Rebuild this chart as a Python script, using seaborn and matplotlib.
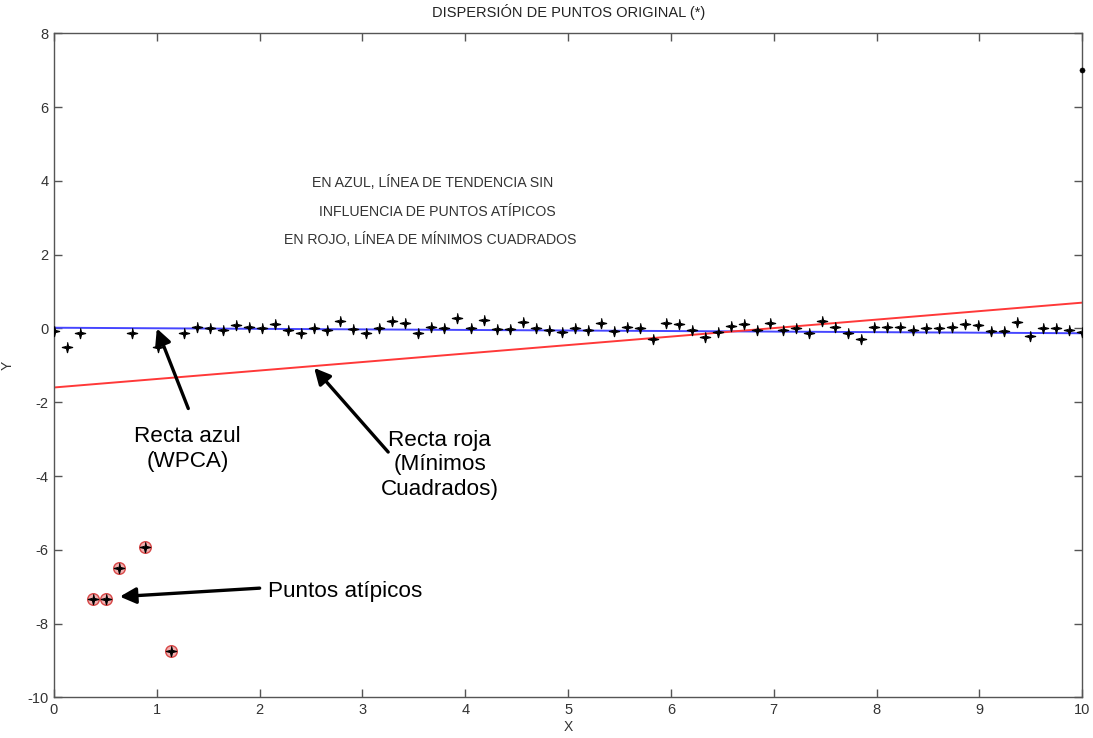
import numpy as np
import seaborn as sns
import matplotlib.pyplot as plt

# puntos originales (80 puntos, x entre 0 y 10)
x = [0.0, 0.127, 0.253, 0.380, 0.506, 0.633, 0.759, 0.886, 1.013, 1.139,
     1.266, 1.392, 1.519, 1.646, 1.772, 1.899, 2.025, 2.152, 2.278, 2.405,
     2.532, 2.658, 2.785, 2.911, 3.038, 3.165, 3.291, 3.418, 3.544, 3.671,
     3.797, 3.924, 4.051, 4.177, 4.304, 4.430, 4.557, 4.684, 4.810, 4.937,
     5.063, 5.190, 5.316, 5.443, 5.570, 5.696, 5.823, 5.949, 6.076, 6.203,
     6.329, 6.456, 6.582, 6.709, 6.835, 6.962, 7.089, 7.215, 7.342, 7.468,
     7.595, 7.722, 7.848, 7.975, 8.101, 8.228, 8.354, 8.481, 8.608, 8.734,
     8.861, 8.987, 9.114, 9.241, 9.367, 9.494, 9.620, 9.747, 9.873, 10.0]
y = [-0.06, -0.50, -0.11, -7.33, -7.33, -6.50, -0.13, -5.93, -0.50, -8.74,
     -0.12, 0.05, 0.00, -0.03, 0.09, 0.05, 0.00, 0.11, -0.04, -0.11,
     0.00, -0.04, 0.20, -0.02, -0.12, 0.00, 0.20, 0.16, -0.11, 0.05,
     0.02, 0.27, 0.02, 0.23, -0.02, -0.02, 0.18, 0.00, -0.04, -0.09,
     0.00, -0.04, 0.16, -0.07, 0.05, 0.00, -0.29, 0.14, 0.11, -0.03,
     -0.24, -0.09, 0.07, 0.11, -0.03, 0.14, -0.03, 0.00, -0.11, 0.21,
     0.05, -0.13, -0.29, 0.03, 0.03, 0.03, -0.03, 0.02, 0.00, 0.03,
     0.12, 0.09, -0.06, -0.06, 0.18, -0.20, 0.02, 0.02, -0.03, -0.09]
outlier_idx = [3, 4, 5, 7, 9]

# punto aislado arriba a la derecha
extra_x = [10.0]
extra_y = [7.0]

# rectas
line_x = [0, 10]
blue_y = [0.02, -0.13]   # WPCA
red_y = [-1.60, 0.70]    # minimos cuadrados

xticks = list(range(0, 11))
yticks = list(range(-10, 9, 2))

sns.set_style('white')
plt.rcParams['font.family'] = ['Liberation Sans', 'DejaVu Sans']
plt.rcParams['axes.unicode_minus'] = False

# estrella de 4 puntas fina, como el '*' de matlab
star = [(0, 1), (0.2, 0.2), (1, 0), (0.2, -0.2), (0, -1),
        (-0.2, -0.2), (-1, 0), (-0.2, 0.2)]

fig = plt.figure(figsize=(10.93, 7.38), dpi=100)
ax = fig.add_axes([0.0494, 0.0551, 0.9408, 0.8997])

sns.lineplot(x=line_x, y=blue_y, color='#4646ff', linewidth=1.4, ax=ax)
sns.lineplot(x=line_x, y=red_y, color='#ff3838', linewidth=1.4, ax=ax)

ox = [x[i] for i in outlier_idx]
oy = [y[i] for i in outlier_idx]
sns.scatterplot(x=ox, y=oy, s=70, color='#f2b0b0', edgecolor='#d84848',
                linewidth=1.0, ax=ax, zorder=3)
sns.scatterplot(x=x, y=y, marker=star, s=55, color='black',
                edgecolor='black', linewidth=0.9, ax=ax, zorder=4)
sns.scatterplot(x=extra_x, y=extra_y, s=14, color='black', edgecolor='black',
                ax=ax, zorder=4, clip_on=False)

ax.set_xlim(0, 10)
ax.set_ylim(-10, 8)
ax.set_xticks(xticks)
ax.set_yticks(yticks)
ax.tick_params(direction='in', length=6, width=1, colors='#555555',
               labelcolor='#333333', labelsize=10.5, top=True, right=True,
               bottom=True, left=True, pad=4)
for sp in ax.spines.values():
    sp.set_color('#555555')
    sp.set_linewidth(1.0)

ax.set_xlabel('X', fontsize=10, color='#333333', labelpad=2)
ax.set_ylabel('Y', fontsize=10, color='#333333', labelpad=9)
ax.set_title('DISPERSIÓN DE PUNTOS ORIGINAL (*)', fontsize=10.5,
             color='#222222', pad=12)

txt_kw = dict(fontsize=10.2, color='#333333', ha='center', va='center')
ax.text(3.68, 3.97, 'EN AZUL, LÍNEA DE TENDENCIA SIN', **txt_kw)
ax.text(3.73, 3.17, 'INFLUENCIA DE PUNTOS ATÍPICOS', **txt_kw)
ax.text(3.66, 2.40, 'EN ROJO, LÍNEA DE MÍNIMOS CUADRADOS', **txt_kw)

arrow = dict(arrowstyle='-|>', color='black', lw=2.4, mutation_scale=24,
             shrinkA=0, shrinkB=0)
ax.annotate('', xy=(1.0, 0.0), xytext=(1.306, -2.17), arrowprops=arrow)
ax.annotate('', xy=(2.53, -1.07), xytext=(3.25, -3.35), arrowprops=arrow)
ax.annotate('', xy=(0.64, -7.27), xytext=(2.0, -7.04), arrowprops=arrow)

call_kw = dict(fontsize=16.2, color='black', linespacing=1.2)
ax.text(1.30, -3.27, 'Recta azul\n(WPCA)', ha='center', va='center', **call_kw)
ax.text(3.75, -3.70, 'Recta roja\n(Mínimos\nCuadrados)', ha='center',
        va='center', **call_kw)
ax.text(2.08, -7.14, 'Puntos atípicos', ha='left', va='center', **call_kw)

fig.savefig('out.png', dpi=100)
